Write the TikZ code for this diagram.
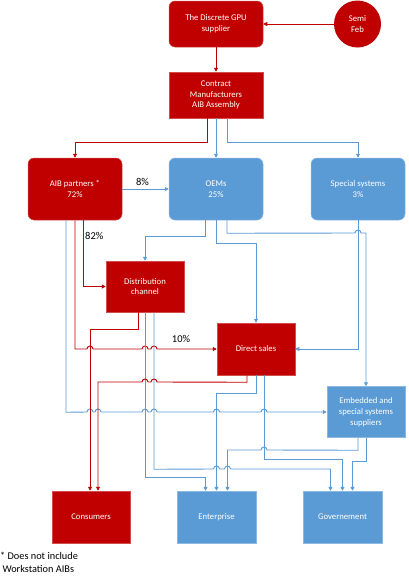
\documentclass[tikz,border=0pt]{standalone}
\usepackage{fontspec}
\setmainfont{Carlito}
\usepackage{tikz}
\usetikzlibrary{arrows.meta, positioning, shapes.geometric}

\definecolor{gpured}{HTML}{C00000}
\definecolor{gpublue}{HTML}{5B9BD5}

% small hop over a crossing line (left to right / right to left)
\newcommand{\hopr}[2]{-- (#1-3,#2) arc[start angle=180,end angle=360,radius=3]}
\newcommand{\hopl}[2]{-- (#1+3,#2) arc[start angle=0,end angle=-180,radius=3]}

\begin{document}
\begin{tikzpicture}[x=1pt, y=-1pt,
    every node/.style={font=\fontsize{8.7}{10.8}\selectfont, align=center, inner sep=0pt},
    redbox/.style={rectangle, fill=gpured, draw=gpured!70!white, line width=0.5pt, text=white, minimum width=94pt, minimum height=46pt},
    bluebox/.style={rectangle, fill=gpublue, draw=gpublue!70!white, line width=0.5pt, text=white, minimum width=79pt, minimum height=52pt},
    roundred/.style={redbox, rounded corners=6pt},
    roundblue/.style={bluebox, rounded corners=6pt, minimum width=94pt, minimum height=62pt},
    pct/.style={font=\fontsize{10.5}{12}\selectfont, text=black},
    redarrow/.style={draw=gpured, line width=0.9pt, -{Triangle[length=4pt, width=4pt]}},
    bluearrow/.style={draw=gpublue, line width=0.9pt, -{Triangle[length=4pt, width=4pt]}}]
    \useasboundingbox (0,0) rectangle (409,576);

    \node[roundred] (gpu) at (216,24) {The Discrete GPU\\supplier};
    \node[circle, fill=gpured, text=white, minimum size=47pt] (semi) at (357.5,24) {Semi\\Feb};
    \node[redbox] (cm) at (216,95) {Contract\\Manufacturers\\AIB Assembly};
    \node[roundred, minimum height=62pt] (aib) at (75,189) {AIB partners *\\72\%};
    \node[roundblue] (oem) at (216,189) {OEMs\\25\%};
    \node[roundblue] (spec) at (358,189) {Special systems\\3\%};
    \node[redbox, minimum width=78pt, minimum height=51pt] (dist) at (145,286.5) {Distribution\\channel};
    \node[redbox, minimum width=78pt, minimum height=52pt] (direct) at (256,349) {Direct sales};
    \node[bluebox, minimum width=78pt, minimum height=51pt] (emb) at (366,412) {Embedded and\\special systems\\suppliers};
    \node[redbox, minimum width=78pt, minimum height=52pt] (cons) at (91,517) {Consumers};
    \node[bluebox] (ent) at (216.5,517) {Enterprise};
    \node[bluebox] (gov) at (342.5,517) {Governement};

    \node[pct, anchor=west] (l82) at (85,236) {82\%};
    \node[pct] (l10) at (181,339) {10\%};
    \node[anchor=west, align=left, font=\fontsize{10.3}{12.5}\selectfont] (note) at (0,562.5) {* Does not include\\\ Workstation AIBs};

    \draw[redarrow] (semi) -- (gpu);
    \draw[redarrow] (gpu) -- (cm);
    \draw[redarrow] ([xshift=-9pt]cm.south) -- ++(0,24) -| (aib.north);
    \draw[bluearrow] (cm.south) -- (oem.north);
    \draw[bluearrow] ([xshift=11pt]cm.south) -- ++(0,24) -| (spec.north);

    \draw[bluearrow] (aib) -- node[pct, above=3pt, xshift=-3pt] (l8) {8\%} (oem);
    \draw[redarrow] ([xshift=8pt]aib.south) |- (dist.west);
    \draw[redarrow] (aib.south) -- (aib.south |- direct.west) \hopr{90}{349} \hopr{145}{349} \hopr{154}{349} -- (direct.west);
    \draw[bluearrow] ([xshift=-9pt]aib.south) -- ++(0,192) \hopr{90}{412} \hopr{98}{412} \hopr{145}{412} \hopr{154}{412} \hopr{216.5}{412} \hopr{264}{412} -- (emb.west);

    \draw[bluearrow] ([xshift=-11pt]oem.south) -- ++(0,16) -| (dist.north);
    \draw[bluearrow] (oem.south) -- ++(0,23) -| (direct.north);
    \draw[bluearrow] ([xshift=11pt]oem.south) -- ++(0,13) \hopr{358}{233} -| (emb.north);
    \draw[bluearrow] (spec.south) |- (direct.east);

    \draw[redarrow] ([xshift=-7pt]dist.south) -- ++(0,17.5) -| ([xshift=-1pt]cons.north);
    \draw[bluearrow] (dist.south) -- ++(0,165) -| ([xshift=-11pt]ent.north);
    \draw[bluearrow] ([xshift=9pt]dist.south) -- ++(0,157) \hopr{216.5}{469} \hopr{227.5}{469} -| ([xshift=-12pt]gov.north);

    \draw[redarrow] ([xshift=-9pt]direct.south) -- ++(0,7) \hopl{154}{382} \hopl{145}{382} -| ([xshift=7pt]cons.north);
    \draw[bluearrow] (direct.south) -- ++(0,18) -| (ent.north);
    \draw[bluearrow] ([xshift=8pt]direct.south) -- ++(0,84) -| (gov.north);

    \draw[bluearrow] ([xshift=-8pt]emb.south) -- ++(0,12.5) \hopl{264}{450} -| ([xshift=11pt]ent.north);
    \draw[bluearrow] (emb.south) -- ++(0,24) -| ([xshift=10pt]gov.north);
\end{tikzpicture}
\end{document}
